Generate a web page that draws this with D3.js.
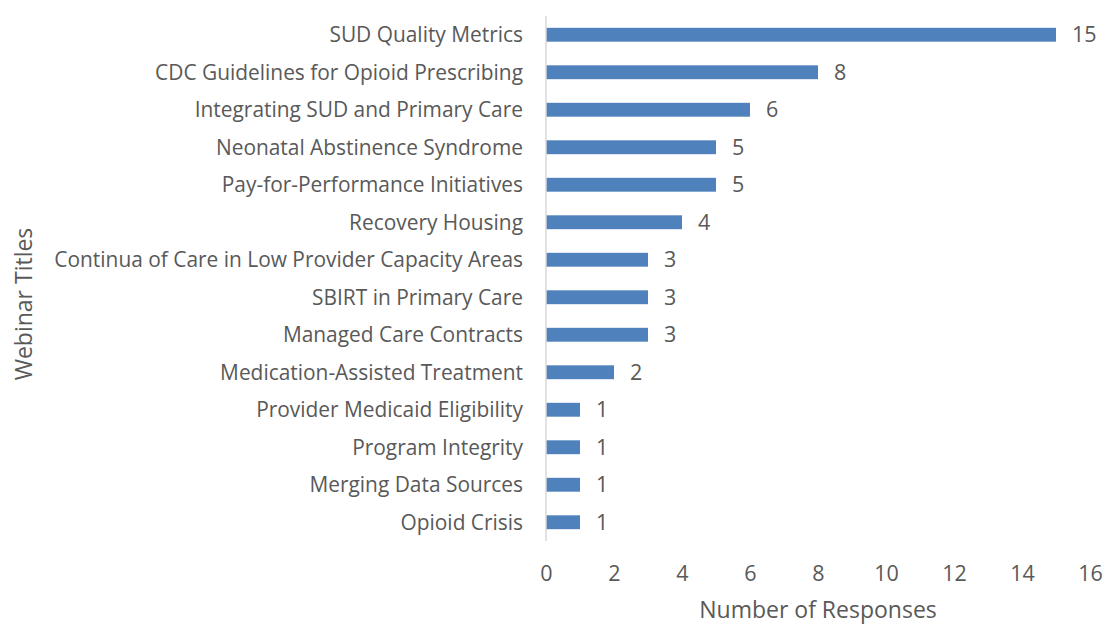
<!DOCTYPE html>
<html>
<head>
<meta charset="utf-8">
<script src="https://cdn.jsdelivr.net/npm/d3@7"></script>
<style>
  body { margin: 0; background: #fff; }
  svg text { font-family: "Open Sans", sans-serif; fill: #595959; }
</style>
</head>
<body>
<svg id="chart" width="1106" height="627"></svg>
<script>
const titles = [
  "SUD Quality Metrics",
  "CDC Guidelines for Opioid Prescribing",
  "Integrating SUD and Primary Care",
  "Neonatal Abstinence Syndrome",
  "Pay-for-Performance Initiatives",
  "Recovery Housing",
  "Continua of Care in Low Provider Capacity Areas",
  "SBIRT in Primary Care",
  "Managed Care Contracts",
  "Medication-Assisted Treatment",
  "Provider Medicaid Eligibility",
  "Program Integrity",
  "Merging Data Sources",
  "Opioid Crisis"
];
const responses = [15, 8, 6, 5, 5, 4, 3, 3, 3, 2, 1, 1, 1, 1];
const xTicks = [0, 2, 4, 6, 8, 10, 12, 14, 16];

const svg = d3.select("#chart");
const margin = { top: 16, right: 16, bottom: 86, left: 546 };

const x = d3.scaleLinear()
  .domain([0, 16])
  .range([margin.left, 1090]);

const y = d3.scaleBand()
  .domain(titles)
  .range([margin.top, 541])
  .paddingInner(0.63)
  .paddingOuter(0.315);

// bars
svg.append("g")
  .selectAll("rect")
  .data(titles)
  .join("rect")
  .attr("x", x(0))
  .attr("y", d => y(d))
  .attr("width", (d, i) => x(responses[i]) - x(0))
  .attr("height", y.bandwidth())
  .attr("fill", "#4f81bd");

// vertical axis line
svg.append("line")
  .attr("x1", x(0)).attr("x2", x(0))
  .attr("y1", margin.top).attr("y2", 541)
  .attr("stroke", "#d9d9d9")
  .attr("stroke-width", 1.5);

// category labels
svg.append("g")
  .selectAll("text")
  .data(titles)
  .join("text")
  .attr("x", x(0) - 23)
  .attr("y", d => y(d) + y.bandwidth() / 2)
  .attr("dy", "0.35em")
  .attr("text-anchor", "end")
  .style("font-size", "20.9px")
  .text(d => d);

// value labels
svg.append("g")
  .selectAll("text")
  .data(titles)
  .join("text")
  .attr("x", (d, i) => x(responses[i]) + 16)
  .attr("y", d => y(d) + y.bandwidth() / 2)
  .attr("dy", "0.36em")
  .style("font-size", "21.5px")
  .text((d, i) => responses[i]);

// x tick labels
const xAxis = svg.append("g")
  .attr("transform", `translate(0,${573})`)
  .call(d3.axisBottom(x).tickValues(xTicks).tickSize(0).tickPadding(0));
xAxis.select(".domain").remove();
xAxis.selectAll("text")
  .style("font-size", "21.5px")
  .style("font-family", "'Open Sans', sans-serif")
  .attr("fill", null)
  .attr("dy", "0.35em");

// axis titles
svg.append("text")
  .attr("x", 818)
  .attr("y", 610)
  .attr("dy", "0.35em")
  .attr("text-anchor", "middle")
  .style("font-size", "23px")
  .text("Number of Responses");

svg.append("text")
  .attr("transform", "translate(24,304) rotate(-90)")
  .attr("dy", "0.35em")
  .attr("text-anchor", "middle")
  .style("font-size", "23px")
  .text("Webinar Titles");
</script>
</body>
</html>
